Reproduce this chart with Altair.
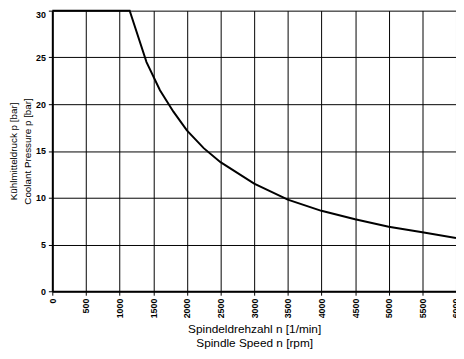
import altair as alt
import pandas as pd

speed = [0, 1150, 1400, 1600, 1800, 2000, 2250, 2500, 3000, 3500, 4000, 4500, 5000, 5500, 6000]
pressure = [30, 30, 24.5, 21.5, 19.2, 17.2, 15.3, 13.8, 11.5, 9.8, 8.6, 7.7, 6.9, 6.3, 5.7]
x_ticks = list(range(0, 6001, 500))
y_ticks = [0, 5, 10, 15, 20, 25, 30]

df = pd.DataFrame({"n": speed, "p": pressure})

FONT = "Liberation Sans"

chart = alt.Chart(df).mark_line(color="black", strokeWidth=2).encode(
    x=alt.X("n:Q",
            scale=alt.Scale(domain=[0, 6000], nice=False, zero=True),
            axis=alt.Axis(values=x_ticks, labelAngle=270, format="d",
                          title=["Spindeldrehzahl n [1/min]", "Spindle Speed n [rpm]"],
                          titleFontSize=12, titleLineHeight=14, titlePadding=6)),
    y=alt.Y("p:Q",
            scale=alt.Scale(domain=[0, 30], nice=False),
            axis=alt.Axis(values=y_ticks, format="d",
                          labelBaseline={"condition": {"test": "datum.value == 30", "value": "top"},
                                         "value": "middle"},
                          title=["Kühlmitteldruck p [bar]", "Coolant Pressure p [bar]"],
                          titleFontSize=10, titleLineHeight=14, titlePadding=3)),
).properties(
    width=410, height=285,
    autosize=alt.AutoSizeParams(type="none"),
    padding={"left": 45, "top": 0, "right": 0, "bottom": 60},
).configure_view(
    stroke=None
).configure_axis(
    grid=True, gridColor="black", gridOpacity=1, gridWidth=1,
    domainColor="black", domainWidth=2,
    tickColor="black", tickSize=4, tickWidth=1,
    labelFont=FONT, labelFontSize=9, labelFontWeight="bold", labelColor="black",
    labelPadding=3,
    titleFont=FONT, titleFontWeight="normal", titleColor="black",
)

chart.save("out.html", embed_options={"renderer": "svg", "actions": False})
